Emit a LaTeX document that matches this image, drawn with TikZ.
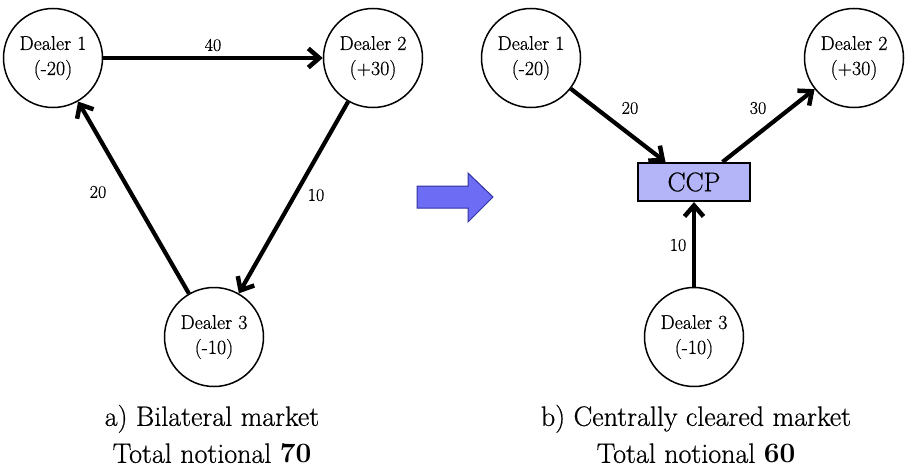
\documentclass[tikz,border=0pt]{standalone}
\usepackage{fontspec}
\setmainfont{Latin Modern Roman}[UprightFeatures={FakeBold=0.6}]
\usetikzlibrary{arrows.meta,calc}
\definecolor{ccpfill}{RGB}{180,180,248}
\definecolor{bigfill}{RGB}{108,108,245}
\definecolor{bigdraw}{RGB}{50,50,160}
\begin{document}
\begin{tikzpicture}[x=1pt,y=-1pt,
 dealer/.style={circle,draw,line width=1.5pt,minimum size=99pt,inner sep=0pt,align=center,font=\fontsize{20}{25}\selectfont},
 flow/.style={line width=4.2pt,-{Straight Barb[length=11pt,width=19pt,line width=4.5pt]}},
 elabel/.style={font=\fontsize{18}{20}\selectfont},
 caption/.style={font=\fontsize{28}{37}\selectfont,align=center},
 ccpbox/.style={draw,line width=2pt,fill=ccpfill,minimum width=112pt,minimum height=38pt,inner sep=0pt,font=\fontsize{27}{30}\selectfont}]
\useasboundingbox (0,0) rectangle (907,471);
% left: bilateral
\node[dealer] (a1) at (53,58) {Dealer 1\\(-20)};
\node[dealer] (a2) at (373,58) {Dealer 2\\(+30)};
\node[dealer] (a3) at (214,337) {Dealer 3\\(-10)};
\draw[flow] (a1) -- (a2);
\draw[flow] (a3) -- (a1);
\draw[flow] (a2) -- (a3);
\node[elabel] (l40) at (213,45) {40};
\node[elabel] (l20a) at (98,192) {20};
\node[elabel] (l10a) at (316,195) {10};
\node[caption] (capa) at (212,434) {a) Bilateral market\\Total notional \textbf{70}};
% big arrow
\draw[line width=1pt,draw=bigdraw,fill=bigfill] (417,186) -- (468,186) -- (468,173) -- (493,197) -- (468,222) -- (468,208) -- (417,208) -- cycle;
% right: centrally cleared
\node[dealer] (b1) at (531,58) {Dealer 1\\(-20)};
\node[dealer] (b2) at (854,58) {Dealer 2\\(+30)};
\node[dealer] (b3) at (694,337) {Dealer 3\\(-10)};
\node[ccpbox] (ccp) at (694,182) {CCP};
\coordinate (cin) at ($(ccp.north)!0.5!(ccp.north west)$);
\coordinate (cout) at ($(ccp.north)!0.5!(ccp.north east)$);
\draw[flow] (b1) -- (cin);
\draw[flow] (cout) -- (b2);
\draw[flow] (b3) -- (ccp);
\node[elabel] (l20b) at (630,108) {20};
\node[elabel] (l30b) at (758,108) {30};
\node[elabel] (l10b) at (678,245) {10};
\node[caption] (capb) at (696,434) {b) Centrally cleared market\\Total notional \textbf{60}};
\end{tikzpicture}
\end{document}
